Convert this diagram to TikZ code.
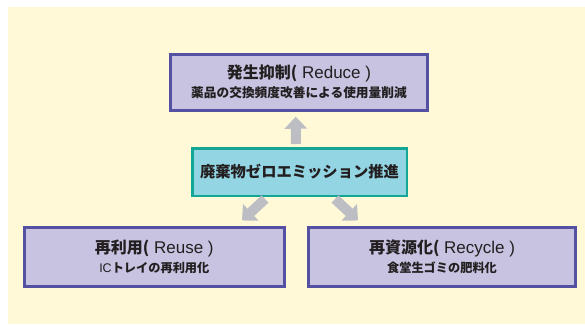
\documentclass[tikz,border=0pt]{standalone}
\usepackage{fontspec}
\usetikzlibrary{arrows.meta,calc}
\setmainfont{Liberation Sans}
\newfontfamily\jp{Noto Sans CJK JP}
\newfontfamily\lat{Liberation Sans}
\definecolor{bgyellow}{HTML}{FFF9D8}
\definecolor{boxfill}{HTML}{C7C3E1}
\definecolor{boxedge}{HTML}{5450A2}
\definecolor{zfill}{HTML}{93D5E3}
\definecolor{zedge}{HTML}{13A695}
\definecolor{arrowgray}{HTML}{BDBEC4}
\definecolor{txt}{HTML}{231F20}
\newcommand\jttl[1]{{\fontsize{16}{20}\jp\bfseries #1}}
\newcommand\lttl[1]{{\fontsize{17}{20}\lat #1}}
\newcommand\jsub[1]{{\fontsize{12.7}{20}\jp\bfseries #1}}
\newcommand\jsubs[1]{{\fontsize{12.2}{20}\jp\bfseries #1}}
\newcommand\lsub[1]{{\fontsize{12.5}{20}\lat #1}}
\tikzset{
  box/.style={draw=boxedge, fill=boxfill, line width=3pt, inner sep=0pt,
    align=center, text=txt, font=\fontsize{16}{19}\selectfont},
  zbox/.style={draw=zedge, fill=zfill, line width=2.5pt, inner sep=0pt,
    align=center, text=txt, font=\fontsize{15.3}{18}\selectfont},
  fat/.style={draw=arrowgray, line width=10pt,
    -{Triangle[width=22pt,length=12pt]}}
}
\begin{document}
\begin{tikzpicture}[x=1pt,y=-1pt]
\useasboundingbox (0,0) rectangle (585,324);
\fill[white] (0,0) rectangle (585,324);
\fill[bgyellow] (8,7) rectangle (585,324);

\node[box, minimum width=257pt, minimum height=56pt] (reduce) at (299,82.2)
  {\jttl{発生抑制(}\lttl{ Reduce )}\\\jsub{薬品の交換頻度改善による使用量削減}};

\node[zbox, minimum width=214.5pt, minimum height=47.5pt] (zero) at (299.5,172)
  {{\jp\bfseries 廃棄物ゼロエミッション推進}};

\node[box, minimum width=260pt, minimum height=59pt] (reuse) at (154.3,257)
  {\jttl{再利用(}\lttl{ Reuse )}\\\lsub{IC}\jsubs{トレイの再利用化}};

\node[box, minimum width=267pt, minimum height=59pt] (recycle) at (442,257)
  {\jttl{再資源化(}\lttl{ Recycle )}\\\jsubs{食堂生ゴミの肥料化}};

\draw[fat] ($(zero.north)+(-3.5,-3)$) -- ($(reduce.south)+(-3.3,5)$);
\draw[fat] ($(zero.south)+(-34.5,2)$) -- ($(reuse.north)+(87.7,-5.5)$);
\draw[fat] ($(zero.south)+(35.5,2)$) -- ($(recycle.north)+(-84,-5.5)$);
\end{tikzpicture}
\end{document}
